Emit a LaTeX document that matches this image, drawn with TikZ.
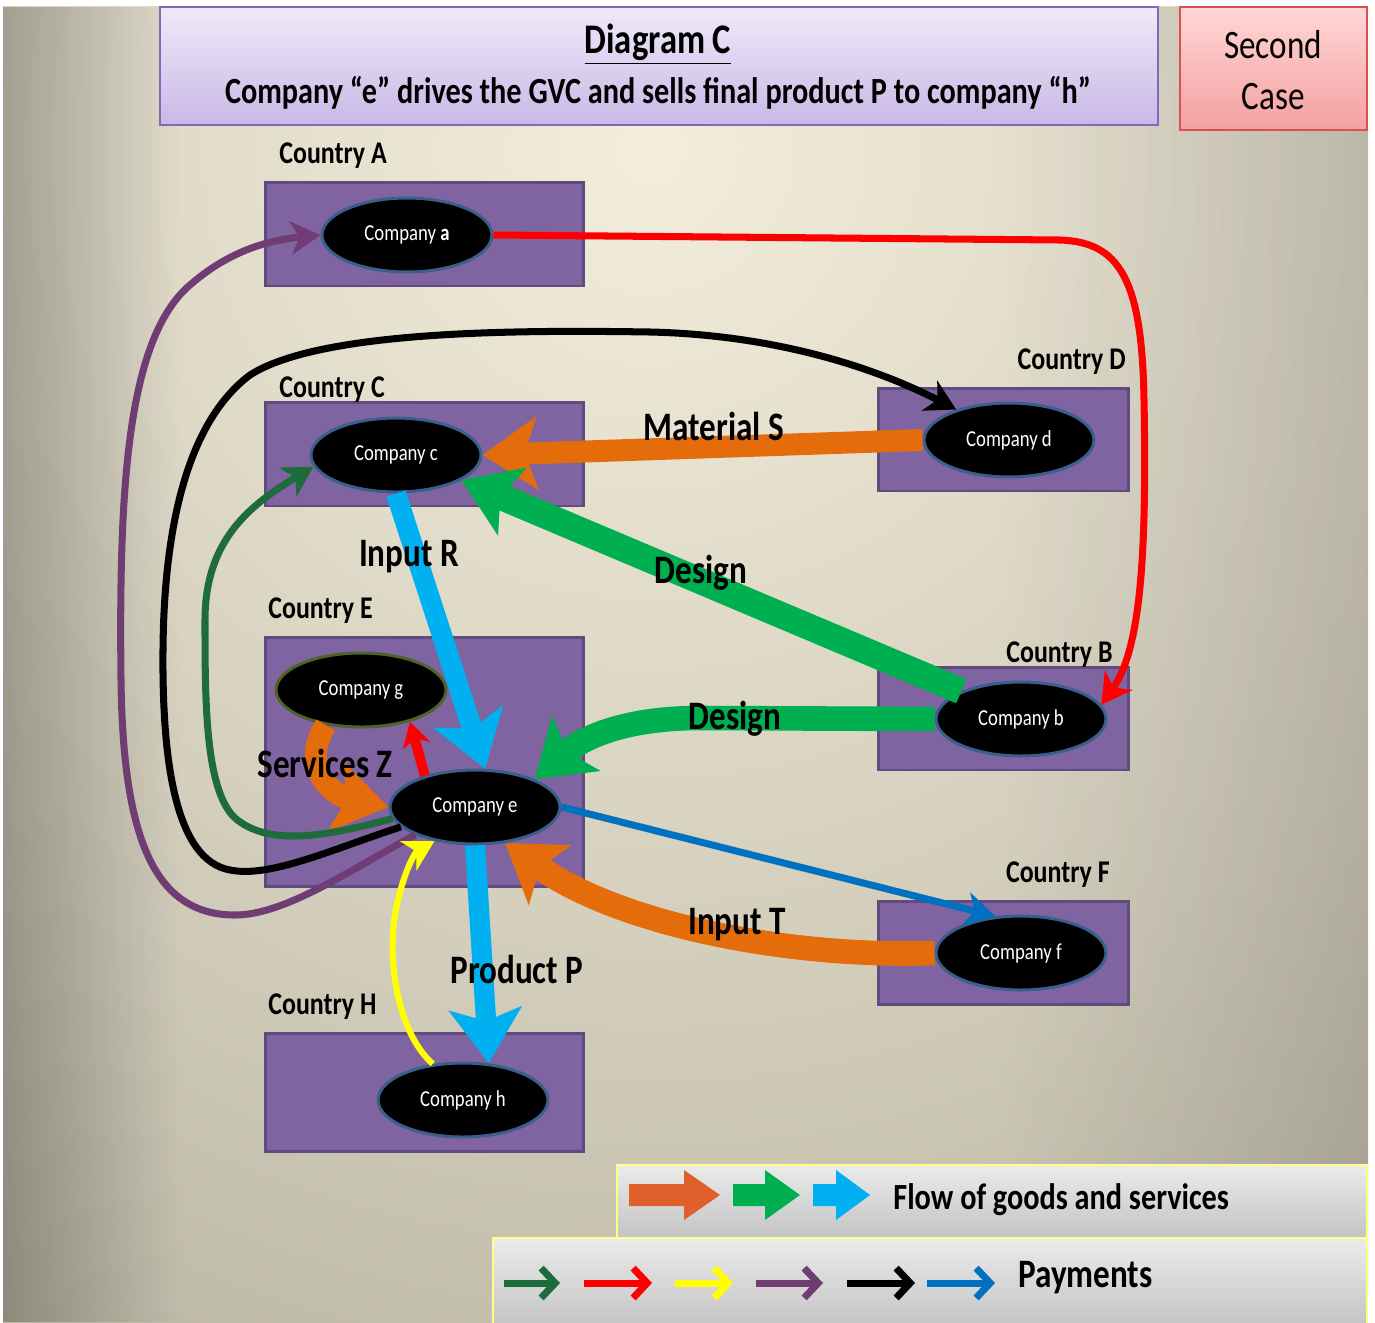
\documentclass[tikz,border=0pt]{standalone}
\usepackage{fontspec}
\setmainfont{Carlito}[FakeStretch=0.82]
\usetikzlibrary{arrows.meta,shapes.geometric,fadings}
\definecolor{bgin}{HTML}{F3EEDC}
\definecolor{bgmid}{HTML}{CFCAB8}
\definecolor{bgout}{HTML}{7E7B6B}
\definecolor{ctry}{HTML}{8064A2}
\definecolor{ctryborder}{HTML}{5F4B7D}
\definecolor{ellborder}{HTML}{3A5F8B}
\definecolor{gborder}{HTML}{4F6228}
\definecolor{flowOrange}{HTML}{E46C0A}
\definecolor{flowGreen}{HTML}{00B050}
\definecolor{flowBlue}{HTML}{00B0F0}
\definecolor{payGreen}{HTML}{1E6B3C}
\definecolor{payRed}{HTML}{FF0000}
\definecolor{payYellow}{HTML}{FFFF00}
\definecolor{payPurple}{HTML}{6F3C73}
\definecolor{payBlue}{HTML}{0070C0}
\definecolor{legOrange}{HTML}{E0602B}
\definecolor{titleTop}{HTML}{EFEAF9}
\definecolor{titleBot}{HTML}{C9B8E6}
\definecolor{titleBorder}{HTML}{8467BA}
\definecolor{caseTop}{HTML}{FFD6D6}
\definecolor{caseBot}{HTML}{F5A0A0}
\definecolor{caseBorder}{HTML}{D9504E}
\definecolor{legTop}{HTML}{EBEBEB}
\definecolor{legBot}{HTML}{C3C3C3}
\definecolor{legBorder}{HTML}{FFFF88}
\pgfdeclareradialshading{bgshade}{\pgfpointorigin}{color(0bp)=(bgin); color(17bp)=(bgmid); color(50bp)=(bgout)}
\tikzfading[name=fadeR, left color=transparent!0, right color=transparent!100]
\tikzfading[name=fadeL, left color=transparent!100, right color=transparent!0]
\newcommand\fsDiag{\fontsize{24pt}{26pt}\selectfont\bfseries}
\newcommand\fsSub{\fontsize{21pt}{23pt}\selectfont\bfseries}
\newcommand\fsCase{\fontsize{23pt}{25pt}\selectfont}
\newcommand\fsComp{\fontsize{13pt}{15pt}\selectfont}
\newcommand\fsCtry{\fontsize{18pt}{20pt}\selectfont\bfseries}
\newcommand\fsBig{\fontsize{23pt}{25pt}\selectfont\bfseries}
\newcommand\fsLeg{\fontsize{21pt}{23pt}\selectfont\bfseries}
\begin{document}
\begin{tikzpicture}[x=0.02cm,y=-0.02cm,
  country/.style={draw=ctryborder, line width=1.7pt, fill=ctry, inner sep=0},
  company/.style={ellipse, fill=black, draw=ellborder, line width=1.7pt, minimum width=3.4cm, minimum height=1.48cm, inner sep=0, text=white, font=\fsComp},
  clabel/.style={inner sep=0, font=\fsCtry},
  biglabel/.style={inner sep=0, font=\fsBig},
  flow/.style={line width=#1, -{Stealth[length=31pt,width=41pt,inset=7pt]}},
  pay/.style={line width=4pt, -{Stealth[length=17pt,width=19pt,inset=5pt]}},
  legbox/.style={draw=legBorder, line width=1.2pt, top color=legTop, bottom color=legBot, inner sep=0},
  legpay/.style={line width=4pt, -{Straight Barb[length=8pt,width=17pt]}},
]
\useasboundingbox (0,0) rectangle (1375,1322);
% background
\begin{scope}
\clip (3,6) rectangle (1368,1322);
\shade[shading=bgshade] (650,150) circle (1350);
\fill[black, opacity=0.25, path fading=fadeR] (3,6) rectangle (180,1322);
\fill[black, opacity=0.12, path fading=fadeL] (1000,6) rectangle (1368,1322);
\end{scope}
% title
\node[draw=titleBorder, line width=1.2pt, top color=titleTop, bottom color=titleBot, minimum width=19.96cm, minimum height=2.36cm, inner sep=0] (title) at (659,66) {};
\node[inner sep=0, font=\fsDiag] (diag) at (658,44) {\underline{Diagram C}};
\node[inner sep=0, font=\fsSub] (sub) at (658,93) {Company “e” drives the GVC and sells final product P to company “h”};
\node[draw=caseBorder, line width=1.2pt, top color=caseTop, bottom color=caseBot, minimum width=3.74cm, minimum height=2.46cm, inner sep=0] (case) at (1273.5,68.5) {};
\node[inner sep=0, font=\fsCase] (second) at (1273,45) {Second};
\node[inner sep=0, font=\fsCase] (casetxt) at (1273,97) {Case};
% countries
\node[country, minimum width=6.38cm, minimum height=2.08cm] (cA) at (424.5,234) {};
\node[country, minimum width=6.38cm, minimum height=2.08cm] (cC) at (424.5,454) {};
\node[country, minimum width=5.02cm, minimum height=2.06cm] (cD) at (1003.5,439.5) {};
\node[country, minimum width=6.38cm, minimum height=5.0cm] (cE) at (424.5,762) {};
\node[country, minimum width=5.02cm, minimum height=2.06cm] (cB) at (1003.5,718.5) {};
\node[country, minimum width=5.02cm, minimum height=2.06cm] (cF) at (1003.5,952.5) {};
\node[country, minimum width=6.38cm, minimum height=2.36cm] (cH) at (424.5,1092) {};
\node[clabel, anchor=west] (lA) at (279,156) {Country A};
\node[clabel, anchor=west] (lC) at (279,390) {Country C};
\node[clabel, anchor=east] (lD) at (1126,362) {Country D};
\node[clabel, anchor=west] (lE) at (268,611) {Country E};
\node[clabel, anchor=east] (lB) at (1113,655) {Country B};
\node[clabel, anchor=east] (lF) at (1110,875) {Country F};
\node[clabel, anchor=west] (lH) at (268,1007) {Country H};
% companies
\node[company] (a) at (407,235) {Company \textbf{a}};
\node[company] (c) at (396,455) {Company c};
\node[company] (d) at (1009,440) {Company d};
\node[company] (b) at (1021,719) {Company b};
\node[company] (e) at (475,807) {Company e};
\node[company, draw=gborder] (g) at (361,690) {Company g};
\node[company] (f) at (1021,953) {Company f};
\node[company] (h) at (463,1100) {Company h};
% flows of goods and services
\draw[flowOrange, flow=12.5pt] (d.west) -- (c.east);
\draw[flowGreen, flow=15pt] (b.155) -- (c.-21);
\draw[flowGreen, flow=14pt] (b.west) -- (700,718) .. controls (620,718) and (580,740) .. (e.25);
\draw[flowBlue, flow=11.5pt] (c.south) -- (e.75);
\draw[flowBlue, flow=11.5pt] (e.south) -- (h.55);
\draw[flowOrange, flow=14pt] (f.west) .. controls (790,958) and (620,925) .. (e.-50);
\draw[flowOrange, flow=12.5pt] (g.-135) .. controls (300,765) and (330,795) .. (e.west);
% payments
\draw[payRed, pay] (a.east) -- (1060,240) .. controls (1120,242) and (1142,280) .. (1144,400) .. controls (1147,560) and (1140,650) .. (b.10);
\draw[payRed, line width=5.7pt, -{Stealth[length=14pt,width=16pt,inset=4pt]}] (e.148) -- (g.-33);
\draw[black, pay] (e.-165) .. controls (330,850) and (270,878) .. (230,870) .. controls (175,860) and (162,760) .. (163,650) .. controls (164,520) and (190,420) .. (250,375) .. controls (320,330) and (520,330) .. (650,332) .. controls (780,335) and (880,370) .. (d.150);
\draw[payPurple, pay] (e.-155) .. controls (350,870) and (285,915) .. (235,915) .. controls (155,915) and (123,840) .. (121,680) .. controls (119,500) and (125,340) .. (190,285) .. controls (230,250) and (270,240) .. (a.west);
\draw[payGreen, pay] (e.-172) .. controls (330,835) and (270,848) .. (235,818) .. controls (205,790) and (205,700) .. (205,620) .. controls (205,540) and (250,505) .. (c.-172);
\draw[payYellow, pay, line width=3.5pt] (h.130) .. controls (395,1030) and (385,950) .. (398,900) .. controls (405,870) and (415,852) .. (e.-140);
\draw[payBlue, pay] (e.east) -- (f.125);
% labels
\node[biglabel] (mS) at (714,426) {Material S};
\node[biglabel] (iR) at (409,557) {Input R};
\node[biglabel] (d1) at (701,573) {Design};
\node[biglabel] (d2) at (735,719) {Design};
\node[biglabel] (sZ) at (325,763) {Services Z};
\node[biglabel] (iT) at (737,925) {Input T};
\node[biglabel] (pP) at (517,969) {Product P};
% legend
\node[legbox, minimum width=15.0cm, minimum height=1.46cm] (leg1) at (992,1201.5) {};
\node[legbox, minimum width=17.5cm, minimum height=1.8cm] (leg2) at (930,1283) {};
\fill[legOrange] (629,1184) -- (684,1184) -- (684,1170) -- (720,1195) -- (684,1220) -- (684,1206) -- (629,1206) -- cycle;
\fill[flowGreen] (733,1184) -- (765,1184) -- (765,1170) -- (800,1195) -- (765,1220) -- (765,1206) -- (733,1206) -- cycle;
\fill[flowBlue] (813,1184) -- (836,1184) -- (836,1170) -- (870,1195) -- (836,1220) -- (836,1206) -- (813,1206) -- cycle;
\node[inner sep=0, font=\fsLeg, anchor=west] (flowtxt) at (893,1200) {Flow of goods and services};
\draw[payGreen, legpay] (504,1283) -- (560,1283);
\draw[payRed, legpay] (584,1283) -- (652,1283);
\draw[payYellow, legpay] (675,1283) -- (733,1283);
\draw[payPurple, legpay] (756,1283) -- (823,1283);
\draw[black, legpay] (847,1283) -- (915,1283);
\draw[payBlue, legpay] (927,1283) -- (995,1283);
\node[biglabel, anchor=west] (paytxt) at (1018,1278) {Payments};
\end{tikzpicture}
\end{document}
